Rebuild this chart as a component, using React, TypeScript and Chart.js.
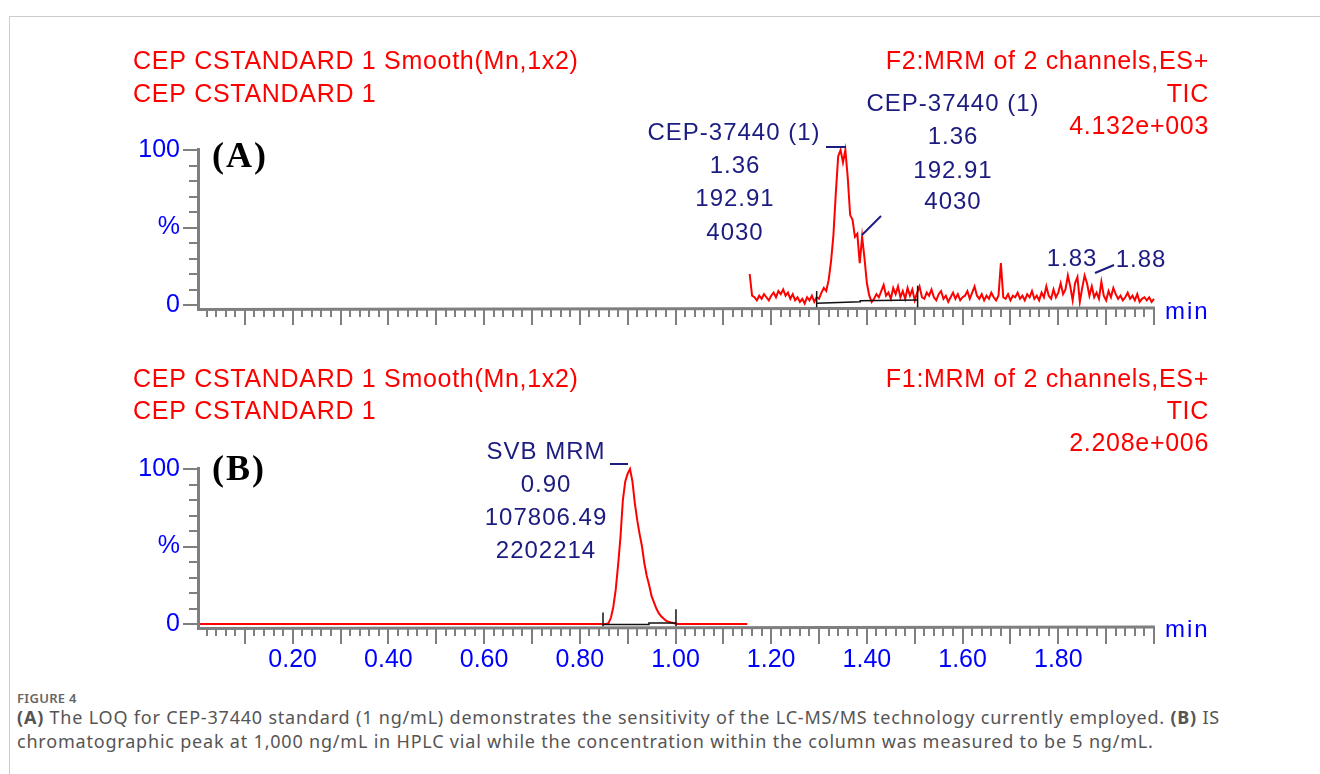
import React, { useEffect, useRef } from 'react';
import { Chart, registerables } from 'chart.js';

Chart.register(...registerables);

// ---------- data ----------
const X_MIN = 0;
const X_MAX = 2.0;
const xLabelValues = [0.2, 0.4, 0.6, 0.8, 1.0, 1.2, 1.4, 1.6, 1.8];
const yLabelValues = [0, 50, 100];
const yLabelTexts = ['0', '%', '100'];

// Panel A: CEP-37440 trace (percent of 4.132e+003), sampled every 0.005 min from 1.155 min
const aStart = 1.155;
const aStep = 0.005;
const aValues = [
  20, 6, 5, 3, 6, 4, 7, 5, 3, 6,
  8, 5, 9, 7, 10, 6, 8, 4, 7, 3,
  5, 2, 4, 1, 5, 3, 6, 2, 5, 4,
  8, 11, 9, 16, 28, 45, 72, 96, 100, 92,
  100, 82, 58, 55, 44, 46, 27, 44, 30, 14,
  6, 2, 4, 7, 5, 9, 13, 6, 8, 4,
  11, 7, 12, 5, 9, 4, 11, 6, 10, 3,
  8, 12, 5, 4, 8, 6, 10, 5, 3, 7,
  9, 4, 6, 2, 5, 8, 4, 7, 3, 5,
  6, 9, 4, 8, 12, 6, 4, 7, 3, 6,
  4, 8, 5, 3, 6, 27, 5, 4, 7, 3,
  6, 5, 8, 4, 6, 3, 7, 5, 9, 4,
  6, 3, 8, 5, 12, 6, 4, 10, 5, 8,
  14, 7, 10, 19, 12, 3, 14, 18, 2, 11,
  19, 14, 6, 12, 5, 8, 4, 15, 6, 3,
  9, 5, 11, 7, 4, 6, 3, 5, 8, 4,
  6, 3, 7, 2, 4, 5, 3, 5, 2, 4,
];
const aBaseTimes = [1.295, 1.386, 1.386, 1.506];
const aBaseValues = [1.1, 2.1, 2.8, 3.2];
const aMarkTimes = [1.295, 1.506];
const aMarkTops = [9, 12.5];

// Panel B: SVB MRM trace (percent of 2.208e+006)
const bTimes = [
  0, 0.85, 0.855, 0.86, 0.865, 0.87, 0.875, 0.88, 0.885, 0.89,
  0.895, 0.9, 0.905, 0.91, 0.915, 0.92, 0.925, 0.93, 0.935, 0.94,
  0.945, 0.95, 0.955, 0.96, 0.965, 0.97, 0.975, 0.98, 0.985, 0.99,
  0.995, 1.0, 1.005, 1.01, 1.15,
];
const bValues = [
  0, 0, 0, 0.5, 4, 11, 22, 38, 56, 80,
  92, 97, 100, 92, 78, 67, 58, 50, 39, 31,
  25, 18, 14, 10, 7, 5, 3.5, 2.2, 1.5, 1.0,
  0.6, 0.3, 0, 0, 0,
];
const bBaseTimes = [0.8485, 0.9445, 0.9445, 1.001];
const bBaseValues = [-0.3, -0.3, 0.7, 0.7];
const bMarkTimes = [0.8485, 1.001];
const bMarkTops = [7.5, 9.5];

// ---------- styling helpers ----------
const RED = '#ff0000';
const NAVY = '#1c1c80';
const BLUE = '#0000ff';
const GRAY = '#7f7f7f';
const SANS = '"Liberation Sans", Arial, sans-serif';

type Txt = { t: string; x: number; y: number; align?: CanvasTextAlign };
type PanelCfg = {
  top: number;
  titlesLeft: Txt[];
  titlesRight: Txt[];
  letter: Txt;
  notes: Txt[];
  segs: number[][];
  minY: number;
  baseTimes: number[];
  baseValues: number[];
  markTimes: number[];
  markTops: number[];
};

function drawText(ctx: CanvasRenderingContext2D, s: Txt, font: string, color: string, ls: number, top: number) {
  ctx.save();
  ctx.font = font;
  ctx.fillStyle = color;
  (ctx as any).letterSpacing = ls + 'px';
  ctx.textBaseline = 'middle';
  ctx.textAlign = s.align || 'left';
  ctx.fillText(s.t, s.x, s.y - top);
  ctx.restore();
}

function makePlugin(cfg: PanelCfg) {
  return {
    id: 'panelDecor',
    afterDraw(chart: any) {
      const ctx: CanvasRenderingContext2D = chart.ctx;
      const xs = chart.scales.x;
      const ys = chart.scales.y;
      const { left, right, bottom } = chart.chartArea;
      const axisY = bottom + 3;
      ctx.save();
      // axes
      ctx.strokeStyle = GRAY;
      ctx.lineWidth = 3;
      ctx.beginPath();
      ctx.moveTo(left + 1.5, ys.getPixelForValue(100) - 2);
      ctx.lineTo(left + 1.5, axisY + 1.5);
      ctx.lineTo(right + 1, axisY);
      ctx.stroke();
      ctx.lineWidth = 2;
      // y ticks
      for (let v = 0; v <= 100; v += 10) {
        const py = Math.round(ys.getPixelForValue(v));
        const len = v % 50 === 0 ? 14 : 8;
        ctx.beginPath();
        ctx.moveTo(left - len, py);
        ctx.lineTo(left + 1, py);
        ctx.stroke();
      }
      // x ticks
      for (let k = 1; k <= 100; k++) {
        const v = k * 0.02;
        if (v > X_MAX + 1e-9) break;
        const px = Math.round(xs.getPixelForValue(v));
        const len = k % 5 === 0 ? 17 : 9;
        ctx.beginPath();
        ctx.moveTo(px, axisY);
        ctx.lineTo(px, axisY + len);
        ctx.stroke();
      }
      // integration baseline and markers
      ctx.strokeStyle = '#111111';
      ctx.lineWidth = 1.5;
      ctx.beginPath();
      cfg.baseTimes.forEach((t, i) => {
        const px = xs.getPixelForValue(t);
        const py = ys.getPixelForValue(cfg.baseValues[i]);
        if (i === 0) ctx.moveTo(px, py);
        else ctx.lineTo(px, py);
      });
      ctx.stroke();
      cfg.markTimes.forEach((t, i) => {
        const px = xs.getPixelForValue(t);
        ctx.beginPath();
        ctx.moveTo(px, ys.getPixelForValue(cfg.markTops[i]));
        ctx.lineTo(px, ys.getPixelForValue(-1.4));
        ctx.stroke();
      });
      // note leader segments
      ctx.strokeStyle = NAVY;
      ctx.lineWidth = 2;
      cfg.segs.forEach((s) => {
        ctx.beginPath();
        ctx.moveTo(s[0], s[1] - cfg.top);
        ctx.lineTo(s[2], s[3] - cfg.top);
        ctx.stroke();
      });
      ctx.restore();
      cfg.titlesLeft.forEach((s) => drawText(ctx, s, `25px ${SANS}`, RED, 0.7, cfg.top));
      cfg.titlesRight.forEach((s) => drawText(ctx, { ...s, align: 'right' }, `25px ${SANS}`, RED, 0.7, cfg.top));
      cfg.notes.forEach((s) => drawText(ctx, { ...s, align: 'center' }, `24px ${SANS}`, NAVY, 1, cfg.top));
      drawText(ctx, cfg.letter, `bold 36px "Liberation Serif", serif`, '#000000', 2, cfg.top);
      drawText(ctx, { t: 'min', x: 1165, y: cfg.minY }, `24px ${SANS}`, BLUE, 2, cfg.top);
    },
  };
}

const panelA: PanelCfg = {
  top: 30,
  titlesLeft: [
    { t: 'CEP CSTANDARD 1 Smooth(Mn,1x2)', x: 133, y: 62 },
    { t: 'CEP CSTANDARD 1', x: 133, y: 95 },
  ],
  titlesRight: [
    { t: 'F2:MRM of 2 channels,ES+', x: 1209, y: 62 },
    { t: 'TIC', x: 1209, y: 95 },
    { t: '4.132e+003', x: 1209, y: 127 },
  ],
  letter: { t: '(A)', x: 212, y: 158 },
  notes: [
    { t: 'CEP-37440 (1)', x: 734, y: 133 },
    { t: '1.36', x: 735, y: 166 },
    { t: '192.91', x: 735, y: 199 },
    { t: '4030', x: 735, y: 233 },
    { t: 'CEP-37440 (1)', x: 953, y: 104 },
    { t: '1.36', x: 953, y: 137 },
    { t: '192.91', x: 953, y: 171 },
    { t: '4030', x: 953, y: 202 },
    { t: '1.83', x: 1072, y: 259 },
    { t: '1.88', x: 1141, y: 260 },
  ],
  segs: [
    [826, 147, 846, 147],
    [862, 235, 881, 216],
    [1095, 273, 1114, 265],
  ],
  minY: 312,
  baseTimes: aBaseTimes,
  baseValues: aBaseValues,
  markTimes: aMarkTimes,
  markTops: aMarkTops,
};

const panelB: PanelCfg = {
  top: 340,
  titlesLeft: [
    { t: 'CEP CSTANDARD 1 Smooth(Mn,1x2)', x: 133, y: 380 },
    { t: 'CEP CSTANDARD 1', x: 133, y: 412 },
  ],
  titlesRight: [
    { t: 'F1:MRM of 2 channels,ES+', x: 1209, y: 380 },
    { t: 'TIC', x: 1209, y: 412 },
    { t: '2.208e+006', x: 1209, y: 444 },
  ],
  letter: { t: '(B)', x: 212, y: 471 },
  notes: [
    { t: 'SVB MRM', x: 546, y: 452 },
    { t: '0.90', x: 546, y: 485 },
    { t: '107806.49', x: 546, y: 518 },
    { t: '2202214', x: 546, y: 551 },
  ],
  segs: [[610, 464, 628, 464]],
  minY: 630,
  baseTimes: bBaseTimes,
  baseValues: bBaseValues,
  markTimes: bMarkTimes,
  markTops: bMarkTops,
};

function yScale(width: number) {
  return {
    min: 0,
    max: 100,
    afterFit: (s: any) => {
      s.width = width;
    },
    afterBuildTicks: (s: any) => {
      s.ticks = yLabelValues.map((v) => ({ value: v }));
    },
    grid: { display: false, drawTicks: false },
    border: { display: false },
    ticks: {
      callback: (v: number) => {
        const i = yLabelValues.indexOf(Math.round(v));
        return i >= 0 ? yLabelTexts[i] : '';
      },
      color: BLUE,
      padding: 17,
      font: { family: SANS, size: 25 },
    },
  };
}

function PanelChart({ which }: { which: 'A' | 'B' }) {
  const ref = useRef<HTMLCanvasElement>(null);
  useEffect(() => {
    if (!ref.current) return;
    const isA = which === 'A';
    const pts = isA
      ? aValues.map((v, i) => ({ x: aStart + i * aStep, y: v }))
      : bTimes.map((t, i) => ({ x: t, y: bValues[i] }));
    const chart = new Chart(ref.current, {
      type: 'line',
      data: {
        datasets: [
          {
            data: pts,
            borderColor: RED,
            borderWidth: 2,
            pointRadius: 0,
            tension: 0,
            fill: false,
            clip: 8,
          } as any,
        ],
      },
      options: {
        animation: false,
        responsive: false,
        maintainAspectRatio: false,
        events: [],
        layout: {
          padding: isA
            ? { top: 120, bottom: 35, left: 0, right: 166 }
            : { top: 129, bottom: 0, left: 0, right: 166 },
        },
        plugins: { legend: { display: false }, tooltip: { enabled: false }, title: { display: false } },
        scales: {
          x: isA
            ? { type: 'linear', min: X_MIN, max: X_MAX, display: false }
            : {
                type: 'linear',
                min: X_MIN,
                max: X_MAX,
                afterFit: (s: any) => {
                  s.height = 56;
                },
                afterBuildTicks: (s: any) => {
                  s.ticks = xLabelValues.map((v) => ({ value: v }));
                },
                grid: { display: false, drawTicks: false },
                border: { display: false },
                ticks: {
                  autoSkip: false,
                  maxRotation: 0,
                  color: BLUE,
                  padding: 21,
                  font: { family: SANS, size: 25 },
                  callback: (v: number) => Number(v).toFixed(2),
                },
              },
          y: yScale(197),
        } as any,
      },
      plugins: [makePlugin(isA ? panelA : panelB)],
    });
    return () => chart.destroy();
  }, [which]);
  const top = which === 'A' ? 30 : 340;
  const h = which === 'A' ? 310 : 340;
  return (
    <canvas
      ref={ref}
      width={1320}
      height={h}
      style={{ position: 'absolute', left: 0, top, width: 1320, height: h, display: 'block' }}
    />
  );
}

export default function App() {
  return (
    <div
      style={{
        position: 'fixed',
        left: 0,
        top: 0,
        width: 1320,
        height: 774,
        background: '#ffffff',
        overflow: 'hidden',
      }}
    >
      <div
        style={{
          position: 'absolute',
          left: 9,
          top: 16,
          width: 1320,
          height: 800,
          borderTop: '1px solid #cccccc',
          borderLeft: '1px solid #cccccc',
        }}
      />
      <PanelChart which="A" />
      <PanelChart which="B" />
      <div
        style={{
          position: 'absolute',
          left: 17,
          top: 689,
          font: '600 13px "Noto Sans", sans-serif',
          color: '#666666',
          letterSpacing: '0.3px',
        }}
      >
        FIGURE 4
      </div>
      <div
        style={{
          position: 'absolute',
          left: 17,
          top: 705,
          font: '18px "Noto Sans", sans-serif',
          lineHeight: '24px',
          color: '#555555',
          whiteSpace: 'nowrap',
          letterSpacing: '0.8px',
        }}
      >
        <b>(A)</b> The LOQ for CEP-37440 standard (1 ng/mL) demonstrates the sensitivity of the LC-MS/MS technology
        currently employed. <b>(B)</b> IS
        <br />
        chromatographic peak at 1,000 ng/mL in HPLC vial while the concentration within the column was measured to be 5
        ng/mL.
      </div>
    </div>
  );
}
